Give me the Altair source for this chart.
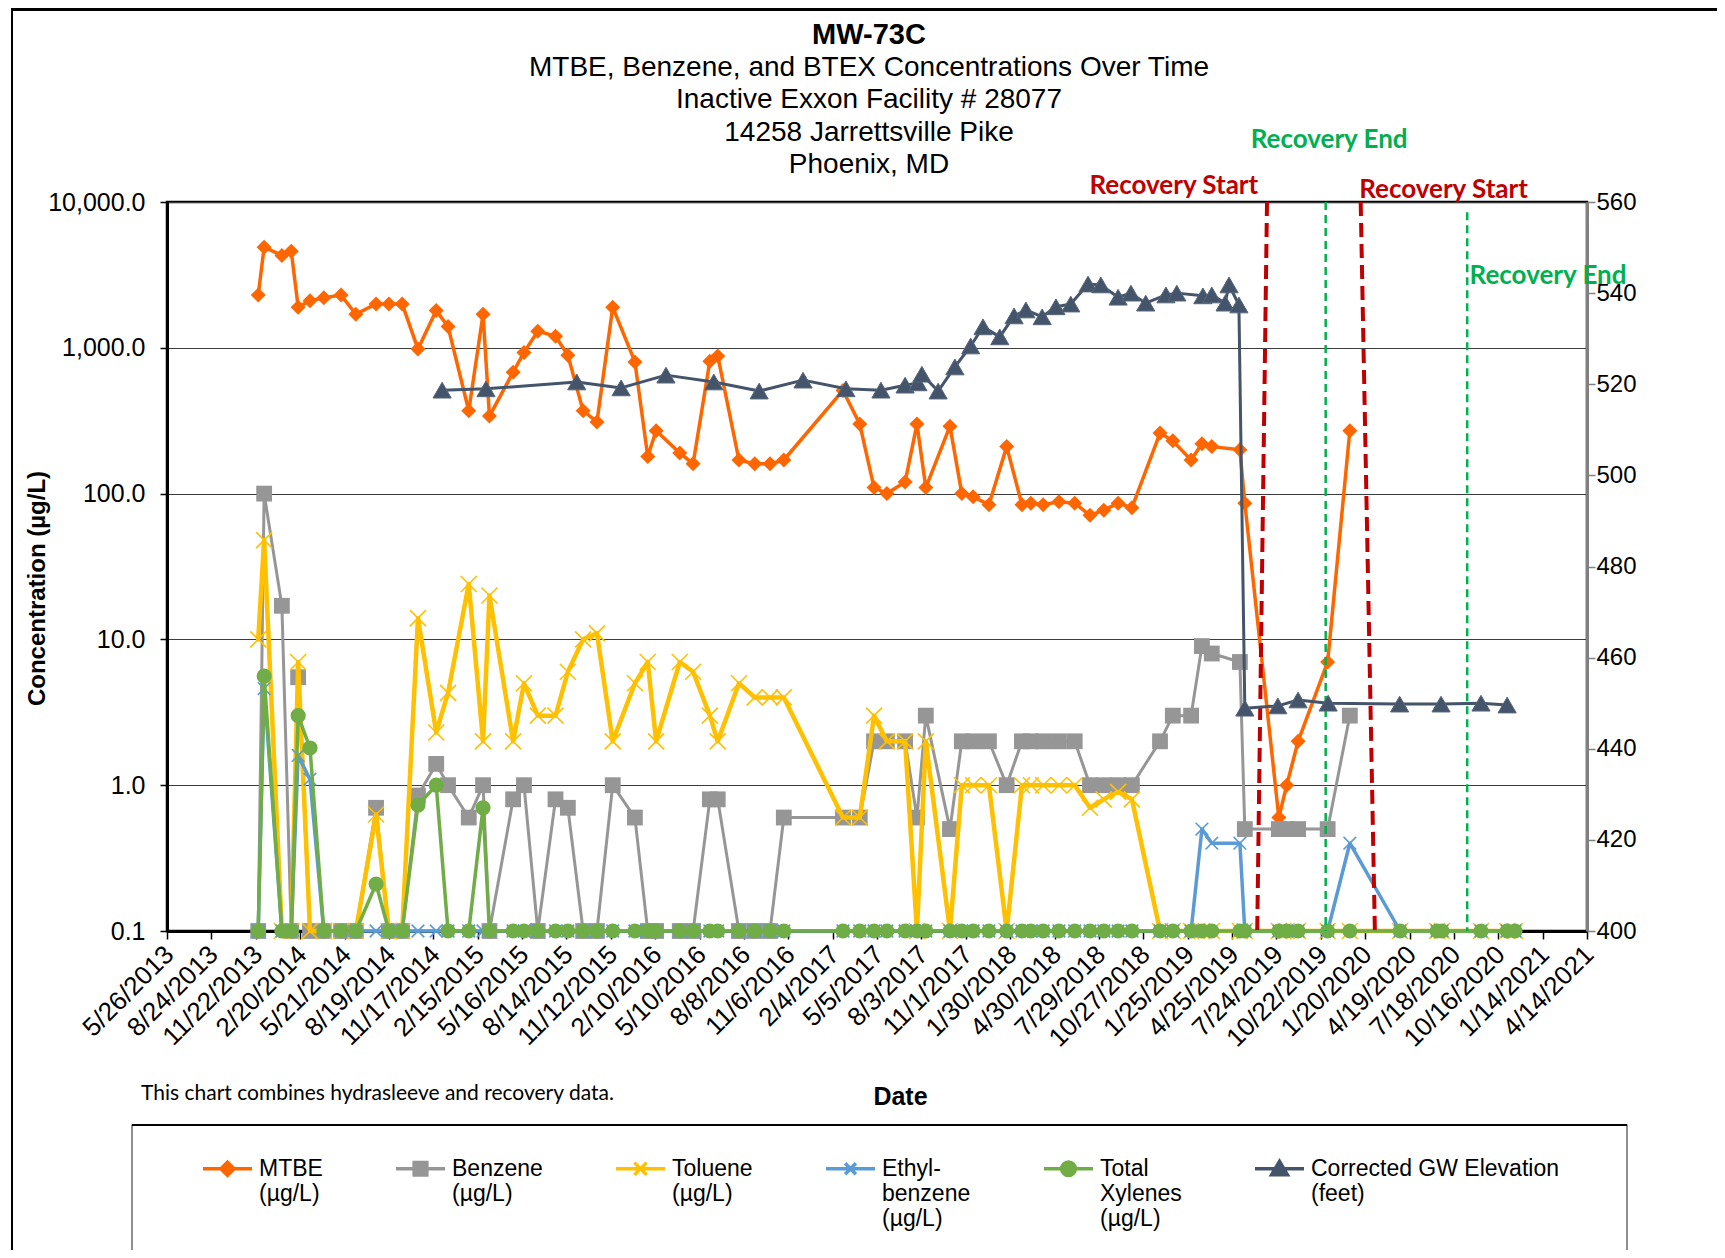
import altair as alt
import pandas as pd

FONT = "Liberation Sans"
NOTE_FONT = "Lato"

# ---------------- data ----------------
sample_dates = [
    "2013-11-27", "2013-12-09", "2014-01-14", "2014-02-02", "2014-02-16", "2014-03-12", "2014-04-09", "2014-05-14", "2014-06-13", "2014-07-24",
    "2014-08-19", "2014-09-15", "2014-10-17", "2014-11-23", "2014-12-17", "2015-01-28", "2015-02-26", "2015-03-11", "2015-04-28", "2015-05-20",
    "2015-06-17", "2015-07-23", "2015-08-17", "2015-09-17", "2015-10-15", "2015-11-16", "2015-12-31", "2016-01-26", "2016-02-12", "2016-03-31",
    "2016-04-27", "2016-05-31", "2016-06-16", "2016-07-29", "2016-08-30", "2016-09-30", "2016-10-28", "2017-02-25", "2017-03-31", "2017-04-29",
    "2017-05-25", "2017-07-01", "2017-07-25", "2017-08-12", "2017-09-30", "2017-10-24", "2017-11-16", "2017-12-18", "2018-01-23", "2018-02-23",
    "2018-03-13", "2018-04-07", "2018-05-09", "2018-06-10", "2018-07-11", "2018-08-08", "2018-09-06", "2018-10-04", "2018-11-30", "2018-12-26",
    "2019-02-01", "2019-02-23", "2019-03-15", "2019-05-11", "2019-05-21", "2019-07-29", "2019-08-14", "2019-09-06", "2019-11-05", "2019-12-20",
    "2020-03-31", "2020-06-14", "2020-06-24", "2020-09-11", "2020-11-03", "2020-11-19",
]

mtbe = [
    2300, 4900, 4300, 4600, 1900, 2100, 2200, 2300, 1700, 2000,
    2000, 2000, 980, 1800, 1400, 370, 1700, 340, 680, 930,
    1300, 1200, 890, 370, 310, 1900, 800, 180, 270, 190,
    160, 810, 880, 170, 160, 160, 170, 510, 300, 110,
    100, 120, 300, 110, 290, 100, 95, 84, 210, 84,
    86, 84, 88, 86, 71, 77, 86, 80, 260, 230,
    170, 220, 210, 200, 86, 0.6, 1.0, 2.0, 7.0, 270,
    None, None, None, None, None, None,
]

benzene = [
    0.1, 100, 17, 0.1, 5.5, 0.1, 0.1, 0.1, 0.1, 0.7,
    0.1, 0.1, 0.85, 1.4, 1.0, 0.6, 1.0, 0.1, 0.8, 1.0,
    0.1, 0.8, 0.7, 0.1, 0.1, 1.0, 0.6, 0.1, 0.1, 0.1,
    0.1, 0.8, 0.8, 0.1, 0.1, 0.1, 0.6, 0.6, 0.6, 2.0,
    2.0, 2.0, 0.6, 3.0, 0.5, 2.0, 2.0, 2.0, 1.0, 2.0,
    2.0, 2.0, 2.0, 2.0, 1.0, 1.0, 1.0, 1.0, 2.0, 3.0,
    3.0, 9.0, 8.0, 7.0, 0.5, 0.5, 0.5, 0.5, 0.5, 3.0,
    None, None, None, None, None, None,
]

toluene = [
    10, 48, 0.1, 0.1, 7.0, 0.1, 0.1, 0.1, 0.1, 0.63,
    0.1, 0.1, 14, 2.3, 4.3, 24, 2.0, 20, 2.0, 5.0,
    3.0, 3.0, 6.0, 10, 11, 2.0, 5.0, 7.0, 2.0, 7.0,
    6.0, 3.0, 2.0, 5.0, 4.0, 4.0, 4.0, 0.6, 0.6, 3.0,
    2.0, 2.0, 0.1, 2.0, 0.1, 1.0, 1.0, 1.0, 0.1, 1.0,
    1.0, 1.0, 1.0, 1.0, 0.7, 0.8, 0.9, 0.8, 0.1, 0.1,
    0.1, 0.1, 0.1, 0.1, 0.1, 0.1, 0.1, 0.1, 0.1, 0.1,
    0.1, 0.1, 0.1, 0.1, 0.1, 0.1,
]

ethylbenzene = [
    0.1, 4.6, 0.1, 0.1, 1.6, 1.1, 0.1, 0.1, 0.1, 0.1,
    0.1, 0.1, 0.1, 0.1, 0.1, 0.1, 0.1, 0.1, 0.1, 0.1,
    0.1, 0.1, 0.1, 0.1, 0.1, 0.1, 0.1, 0.1, 0.1, 0.1,
    0.1, 0.1, 0.1, 0.1, 0.1, 0.1, 0.1, 0.1, 0.1, 0.1,
    0.1, 0.1, 0.1, 0.1, 0.1, 0.1, 0.1, 0.1, 0.1, 0.1,
    0.1, 0.1, 0.1, 0.1, 0.1, 0.1, 0.1, 0.1, 0.1, 0.1,
    0.1, 0.5, 0.4, 0.4, 0.1, 0.1, 0.1, 0.1, 0.1, 0.4,
    0.1, 0.1, 0.1, 0.1, 0.1, 0.1,
]

total_xylenes = [
    0.1, 5.6, 0.1, 0.1, 3.0, 1.8, 0.1, 0.1, 0.1, 0.21,
    0.1, 0.1, 0.73, 1.0, 0.1, 0.1, 0.7, 0.1, 0.1, 0.1,
    0.1, 0.1, 0.1, 0.1, 0.1, 0.1, 0.1, 0.1, 0.1, 0.1,
    0.1, 0.1, 0.1, 0.1, 0.1, 0.1, 0.1, 0.1, 0.1, 0.1,
    0.1, 0.1, 0.1, 0.1, 0.1, 0.1, 0.1, 0.1, 0.1, 0.1,
    0.1, 0.1, 0.1, 0.1, 0.1, 0.1, 0.1, 0.1, 0.1, 0.1,
    0.1, 0.1, 0.1, 0.1, 0.1, 0.1, 0.1, 0.1, 0.1, 0.1,
    0.1, 0.1, 0.1, 0.1, 0.1, 0.1,
]

gw_dates = [
    "2014-12-05", "2015-03-04", "2015-09-04", "2015-12-03", "2016-03-03", "2016-06-08", "2016-09-08", "2016-12-06",
    "2017-03-03", "2017-05-13", "2017-07-01", "2017-07-27", "2017-08-04", "2017-09-06", "2017-10-10", "2017-11-11",
    "2017-12-06", "2018-01-09", "2018-02-07", "2018-03-03", "2018-04-05", "2018-05-03", "2018-06-02", "2018-07-07",
    "2018-08-02", "2018-09-06", "2018-10-02", "2018-11-01", "2018-12-12", "2019-01-03", "2019-02-25", "2019-03-15",
    "2019-04-11", "2019-04-19", "2019-05-09", "2019-05-21", "2019-07-27", "2019-09-06", "2019-11-06", "2020-03-30",
    "2020-06-22", "2020-09-11", "2020-11-03",
]
gw_elev = [
    518.7, 519.0, 520.5, 519.2, 522.0, 520.5, 518.5, 520.9,
    519.0, 518.7, 519.8, 520.3, 522.2, 518.5, 523.8, 528.4,
    532.6, 530.4, 535.0, 536.3, 534.8, 537.0, 537.6, 542.0,
    541.8, 539.1, 540.0, 537.8, 539.6, 540.0, 539.4, 539.6,
    537.8, 541.8, 537.4, 448.9, 449.4, 450.7, 450.0, 449.8,
    449.8, 450.0, 449.6,
]

x_tick_dates = [
    "2013-05-26", "2013-08-24", "2013-11-22", "2014-02-20", "2014-05-21", "2014-08-19", "2014-11-17", "2015-02-15",
    "2015-05-16", "2015-08-14", "2015-11-12", "2016-02-10", "2016-05-10", "2016-08-08", "2016-11-06", "2017-02-04",
    "2017-05-05", "2017-08-03", "2017-11-01", "2018-01-30", "2018-04-30", "2018-07-29", "2018-10-27", "2019-01-25",
    "2019-04-25", "2019-07-24", "2019-10-22", "2020-01-20", "2020-04-19", "2020-07-18", "2020-10-16", "2021-01-14",
    "2021-04-14",
]
conc_ticks = [0.1, 1, 10, 100, 1000, 10000]
elev_ticks = [400, 420, 440, 460, 480, 500, 520, 540, 560]

# recovery markers (drawn shapes in the original)
red_top_dates = ["2019-07-05", "2020-01-11"]
red_bottom_dates = ["2019-06-15", "2020-02-09"]
red_top = [10000, 10000]
red_bottom = [0.091, 0.092]
green_dates = ["2019-11-01", "2020-08-14"]
green_top = [10000, 8500]
green_bottom = [0.1, 0.1]

rec_texts = ["Recovery Start", "Recovery End", "Recovery Start", "Recovery End"]
rec_text_dates = ["2018-12-28", "2019-11-08", "2020-06-27", "2021-01-25"]
rec_text_conc = [12800, 26600, 12100, 3100]
rec_text_colors = ["#C00000", "#00B050", "#C00000", "#00B050"]

title_text = "MW-73C"
subtitle_lines = [
    "MTBE, Benzene, and BTEX Concentrations Over Time",
    "Inactive Exxon Facility # 28077",
    "14258 Jarrettsville Pike",
    "Phoenix, MD",
]
note_text = "This chart combines hydrasleeve and recovery data."

legend_labels = [
    "MTBE|(µg/L)|",
    "Benzene|(µg/L)|",
    "Toluene|(µg/L)|",
    "Ethyl-|benzene|(µg/L)",
    "Total|Xylenes|(µg/L)",
    "Corrected GW Elevation|(feet)|",
]

C_MTBE = "#FF6600"
C_BENZ = "#969696"
C_TOL = "#FFC000"
C_ETH = "#5B9BD5"
C_XYL = "#70AD47"
C_GW = "#44546A"
legend_colors = [C_MTBE, C_BENZ, C_TOL, C_ETH, C_XYL, C_GW]

X_PATH = "M-1,-1L1,1M1,-1L-1,1"
legend_paths = [
    "M-1,0L1,0M0,-0.27L0.27,0L0,0.27L-0.27,0Z",
    "M-1,0L1,0M-0.26,-0.26L0.26,-0.26L0.26,0.26L-0.26,0.26Z",
    "M-1,0L1,0M-0.25,-0.25L0.25,0.25M0.25,-0.25L-0.25,0.25",
    "M-1,0L1,0M-0.22,-0.22L0.22,0.22M0.22,-0.22L-0.22,0.22",
    "M-1,0L1,0M0.28,0A0.28,0.28 0 1 1 -0.28,0A0.28,0.28 0 1 1 0.28,0Z",
    "M-1,0L1,0M0,-0.3L0.32,0.24L-0.32,0.24Z",
]

# ---------------- scales / axes ----------------
def to_ms(d):
    return int(pd.Timestamp(d, tz="UTC").value // 10**6)

x_scale = alt.Scale(type="utc", domain=[to_ms(x_tick_dates[0]), to_ms(x_tick_dates[-1])], nice=False)
x_axis = alt.Axis(
    values=[to_ms(d) for d in x_tick_dates], labelExpr="utcFormat(datum.value, '%-m/%-d/%Y')",
    labelAngle=315, labelAlign="right", labelBaseline="middle", labelFont=FONT, labelFontSize=26,
    labelColor="black", labelPadding=11, labelOffset=2, labelOverlap=False, labelFlush=False,
    tickSize=8, tickColor="black", tickWidth=1.5, domainColor="black", domainWidth=3, grid=False,
    title="Date", titleFont=FONT, titleFontSize=25, titleFontWeight="bold", titleColor="black",
    titleX=733, titleY=165, titleAlign="center", titleBaseline="middle",
)
c_scale = alt.Scale(type="log", domain=[0.1, 10000], nice=False)
c_axis = alt.Axis(
    values=conc_ticks, format=",.1f", labelFont=FONT, labelFontSize=25, labelColor="black", labelPadding=15,
    tickSize=7, tickColor="black", tickWidth=1.5, domainColor="black", domainWidth=3,
    grid=True, gridColor="#3c3c3c", gridWidth=1,
    title="Concentration (µg/L)", titleFont=FONT, titleFontSize=24, titleFontWeight="bold", titleColor="black",
    titleX=-130, titleY=386, titleAngle=270, titleAlign="center", titleBaseline="middle",
)
g_scale = alt.Scale(domain=[400, 560], nice=False, zero=False)
g_axis = alt.Axis(
    orient="right", values=elev_ticks, format="d", labelFont=FONT, labelFontSize=24, labelColor="black",
    labelPadding=1, tickSize=8, tickColor="#808080", tickWidth=1.5, domainColor="#808080", domainWidth=3,
    grid=False, title=None,
)


def X(field):
    return alt.X(field, type="temporal", scale=x_scale, axis=x_axis)


def Yc(field):
    return alt.Y(field, type="quantitative", scale=c_scale, axis=c_axis)


def series(values, color, width, shape, size, filled, **pt_kw):
    df = pd.DataFrame({"date": sample_dates, "value": values}).dropna()
    base = alt.Chart(df).encode(x=X("date"), y=Yc("value"))
    line = base.mark_line(color=color, strokeWidth=width, strokeJoin="round", strokeCap="round")
    pts = base.mark_point(shape=shape, size=size, filled=filled, color=color, opacity=1, **pt_kw)
    return [line, pts]


conc_layers = []
conc_layers += series(mtbe, C_MTBE, 3.5, "diamond", 225, True)
conc_layers += series(benzene, C_BENZ, 3, "square", 250, True)
conc_layers += series(toluene, C_TOL, 4.5, X_PATH, 256, False, strokeWidth=1.6)
conc_layers += series(ethylbenzene, C_ETH, 3.5, X_PATH, 160, False, strokeWidth=1.6)
conc_layers += series(total_xylenes, C_XYL, 3.5, "circle", 230, True)

# recovery lines and labels
red_df = pd.DataFrame({"d1": red_top_dates, "d2": red_bottom_dates, "v1": red_top, "v2": red_bottom})
red_rules = alt.Chart(red_df).mark_rule(color="#C00000", strokeWidth=4, strokeDash=[14, 7]).encode(
    x=X("d1"), x2="d2", y=Yc("v1"), y2="v2"
)
green_df = pd.DataFrame({"d": green_dates, "v1": green_top, "v2": green_bottom})
green_rules = alt.Chart(green_df).mark_rule(color="#00B050", strokeWidth=2.5, strokeDash=[8, 5]).encode(
    x=X("d"), y=Yc("v1"), y2="v2"
)
rec_df = pd.DataFrame({"d": rec_text_dates, "v": rec_text_conc, "t": rec_texts, "c": rec_text_colors})
rec_labels = alt.Chart(rec_df).mark_text(font=NOTE_FONT, fontSize=26, fontWeight="bold", align="center",
                                         baseline="middle").encode(
    x=X("d"), y=Yc("v"), text="t:N", color=alt.Color("c:N", scale=None)
)

# legend (built from scales of a hidden layer)
leg = alt.Legend(
    orient="none", legendX=34, legendY=940, direction="horizontal", columns=6, padding=0,
    labelFont=FONT, labelFontSize=23, labelColor="black", labelLimit=500, labelOffset=5,
    labelExpr="split(datum.label, '|')",
    columnPadding=66, symbolSize=2401, symbolStrokeWidth=3.5, symbolOpacity=1, title=None,
)
legend_df = pd.DataFrame({"series": legend_labels})
legend_layer = alt.Chart(legend_df).transform_filter("false").mark_point(filled=True, opacity=1).encode(
    fill=alt.Fill("series:N", scale=alt.Scale(domain=legend_labels, range=legend_colors), legend=leg),
    stroke=alt.Stroke("series:N", scale=alt.Scale(domain=legend_labels, range=legend_colors), legend=leg),
    shape=alt.Shape("series:N", scale=alt.Scale(domain=legend_labels, range=legend_paths), legend=leg),
)

conc = alt.layer(*conc_layers, red_rules, green_rules, rec_labels, legend_layer)

gw_df = pd.DataFrame({"date": gw_dates, "elev": gw_elev})
gw_base = alt.Chart(gw_df).encode(x=X("date"), y=alt.Y("elev:Q", scale=g_scale, axis=g_axis))
gw = alt.layer(
    gw_base.mark_line(color=C_GW, strokeWidth=3, strokeJoin="round"),
    gw_base.mark_point(shape="triangle-up", size=330, filled=True, fill=C_GW, stroke="#56667a",
                       strokeWidth=1, opacity=1),
)

# page decorations: outer frame, legend box, footnote
one = pd.DataFrame({"k": [0]})
note = alt.Chart(pd.DataFrame({"t": [note_text]})).mark_text(
    font=NOTE_FONT, fontSize=21, align="left", baseline="middle", color="black"
).encode(text="t:N", x=alt.value(-26), y=alt.value(892))
frame_top = alt.Chart(one).mark_rule(color="black", strokeWidth=3).encode(
    x=alt.value(-155), x2=alt.value(1560), y=alt.value(-192.5), y2=alt.value(-192.5))
frame_left = alt.Chart(one).mark_rule(color="black", strokeWidth=2).encode(
    x=alt.value(-155), x2=alt.value(-155), y=alt.value(-194), y2=alt.value(1050))
legend_box = alt.Chart(one).mark_rect(fillOpacity=0, stroke="#444444", strokeWidth=1.2).encode(
    x=alt.value(-35), x2=alt.value(1460), y=alt.value(923), y2=alt.value(1070))
legend_box_top = alt.Chart(one).mark_rule(color="black", strokeWidth=2).encode(
    x=alt.value(-35), x2=alt.value(1460), y=alt.value(923), y2=alt.value(923))

chart = alt.layer(conc, gw, note, frame_top, frame_left, legend_box, legend_box_top).resolve_scale(
    y="independent"
).properties(
    width=1420, height=729,
    title=alt.TitleParams(
        text=title_text, subtitle=subtitle_lines, font=FONT, fontSize=29, fontWeight="bold", color="black",
        subtitleFont=FONT, subtitleFontSize=28, subtitleColor="black", subtitleLineHeight=32.5,
        subtitlePadding=4, anchor="middle", frame="group", offset=0, dy=172, dx=-8,
    ),
    autosize=alt.AutoSizeParams(type="none"),
    padding={"left": 159, "top": 194, "right": 130, "bottom": 319},
).configure(font=FONT).configure_view(stroke="black", strokeWidth=2.5)

chart.save("out.html", embed_options={"renderer": "svg", "actions": False})
